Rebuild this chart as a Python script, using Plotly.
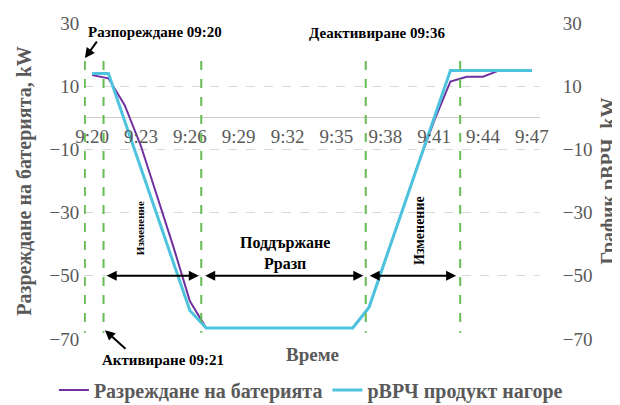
import plotly.graph_objects as go

times = ["9:%02d" % m for m in range(20, 48)]
tick_labels = times[::3]

battery = [13.5, 12.5, 4, -9, -25, -41, -58, -66.5,
           -66.5, -66.5, -66.5, -66.5, -66.5, -66.5, -66.5, -66.5, -66.5,
           -60, -45, -30, -15, -1, 11.5, 13, 13, 15, 15, 15]
product = [14, 14, -1, -16, -31, -46, -61, -66.5,
           -66.5, -66.5, -66.5, -66.5, -66.5, -66.5, -66.5, -66.5, -66.5,
           -60, -45, -30, -15, 0, 15, 15, 15, 15, 15, 15]

event_x = [-0.45, 0.7, 6.7, 16.8, 22.6]
span_pairs = [(0.8, 6.55), (6.85, 16.65), (16.95, 22.35)]

GRAY = "#595959"
SERIF = "Liberation Serif"

fig = go.Figure()
fig.add_trace(go.Scatter(x=times, y=battery, mode="lines",
                         name="<b>Разреждане на батерията</b>",
                         line=dict(color="#7030A0", width=2)))
fig.add_trace(go.Scatter(x=times, y=product, mode="lines",
                         name="<b>рВРЧ продукт нагоре</b>",
                         line=dict(color="#4EC3DE", width=3), yaxis="y2"))

for ex in event_x:
    fig.add_shape(type="line", xref="x", yref="y", x0=ex, x1=ex, y0=18, y1=-68,
                  line=dict(color="#66BB55", width=2, dash="dash"))

for a, b in span_pairs:
    fig.add_annotation(x=b, y=-50, ax=a, ay=-50, xref="x", yref="y", axref="x", ayref="y",
                       text="", showarrow=True, arrowhead=2, arrowside="end+start",
                       arrowwidth=2, arrowsize=1, arrowcolor="black")

def bold(size):
    return dict(family=SERIF, size=size, color="black")

def label(x, y, text, font, angle=0):
    fig.add_annotation(x=x, y=y, xref="paper", yref="paper", text=text, textangle=angle,
                       xanchor="center", yanchor="middle", showarrow=False, font=font)

label(0.156, 0.972, "<b>Разпореждане 09:20</b>", bold(15))
label(0.643, 0.968, "<b>Деактивиране 09:36</b>", bold(15))
label(0.173, -0.066, "<b>Активиране 09:21</b>", bold(15))
label(0.123, 0.351, "<b>Изменение</b>", bold(11), -90)
label(0.737, 0.342, "<b>Изменение</b>", bold(14), -90)
label(0.441, 0.272, "<b>Поддържане<br>Рразп</b>", bold(16))
label(0.5, -0.05, "<b>Време</b>", dict(family=SERIF, size=19, color=GRAY))

# pointer arrows
fig.add_annotation(x=0.002, y=0.889, xref="paper", yref="paper", text="", showarrow=True,
                   ax=13, ay=-18, arrowhead=2, arrowwidth=2, arrowcolor="black")
fig.add_annotation(x=0.046, y=0.028, xref="paper", yref="paper", text="", showarrow=True,
                   ax=22, ay=20, arrowhead=2, arrowwidth=2, arrowcolor="black")

yax = dict(range=[-70, 30], tick0=10, dtick=20, tickfont=dict(family=SERIF, size=19, color=GRAY),
           ticks="outside", tickcolor="rgba(0,0,0,0)", automargin=False)
# page body has an 8px default margin (top/left), so the figure is sized 8px smaller
fig.update_layout(
    width=612, height=397,
    margin=dict(l=76, r=80, t=15, b=66, autoexpand=False),
    paper_bgcolor="white", plot_bgcolor="white",
    showlegend=True,
    legend=dict(orientation="h", x=-0.066, xanchor="left", y=-0.161, yanchor="middle",
                font=dict(family=SERIF, size=20, color=GRAY), itemwidth=30,
                tracegroupgap=0, bgcolor="rgba(0,0,0,0)"),
    xaxis=dict(type="category", range=[-0.5, 27.5], anchor="free", position=0.699,
               showgrid=False, showline=False,
               tickvals=tick_labels, ticktext=tick_labels, ticks="outside", ticklen=1,
               tickcolor="rgba(0,0,0,0)", automargin=False,
               tickfont=dict(family=SERIF, size=19, color=GRAY), zeroline=False),
    yaxis=dict(**yax, ticklen=0, showgrid=True, gridcolor="#d9d9d9", griddash="dash", gridwidth=1,
               zeroline=True, zerolinecolor="#d4ccc4", zerolinewidth=1,
               title=dict(text="<b>Разреждане на батерията, kW</b>",
                          font=dict(family=SERIF, size=20, color=GRAY), standoff=12)),
    yaxis2=dict(**yax, ticklen=18, overlaying="y", side="right", showgrid=False, zeroline=False,
                title=dict(text="<b>График рВРЧ, kW</b>",
                           font=dict(family=SERIF, size=20, color=GRAY), standoff=12)),
)

fig.write_html("out.html")
